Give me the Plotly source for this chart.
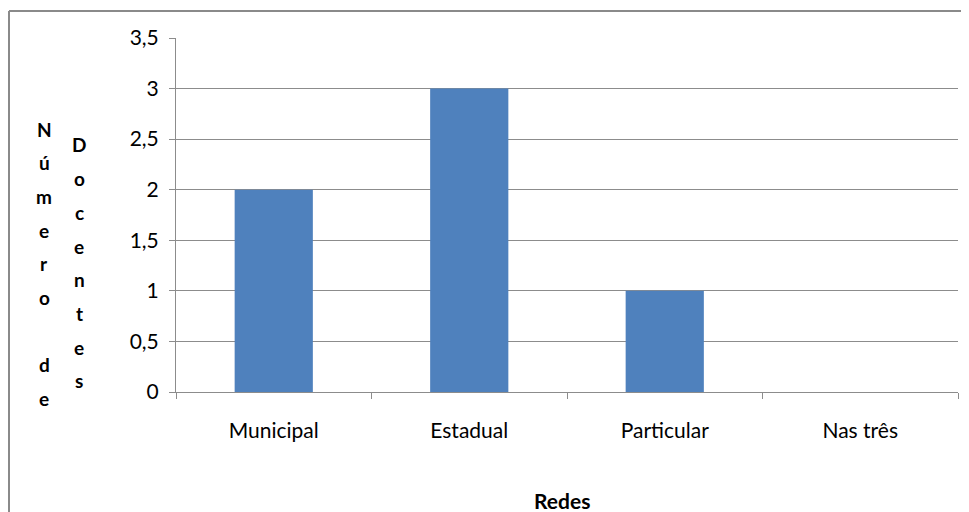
import plotly.graph_objects as go

categories = ["Municipal", "Estadual", "Particular", "Nas três"]
values = [2, 3, 1, 0]
y_title_col1 = "Número de"
y_title_col2 = "Docentes"
x_title = "Redes"

W, H = 969, 512
OFF = 8  # page body margin offset of the rendered figure
L, R, T, B = 176 - OFF, 19, 38 - OFF, 128
pw, ph = W - L - R, H - T - B

def px_x(x):
    return (x - OFF - L) / pw

def px_y(y):
    return 1 - (y - OFF - T) / ph

FONT = "Lato"
GRID = "#8c8c8c"

fig = go.Figure(go.Bar(x=categories, y=values, marker=dict(color="#4F81BD", line=dict(width=0))))

fig.update_layout(
    width=W, height=H,
    margin=dict(l=L, r=R, t=T, b=B, pad=0),
    plot_bgcolor="white", paper_bgcolor="white",
    bargap=0.6, showlegend=False,
    separators=",.",
    font=dict(family=FONT, size=21, color="#000000"),
)
fig.update_yaxes(
    range=[0, 3.5], dtick=0.5, tick0=0,
    showgrid=True, gridcolor=GRID, gridwidth=1,
    showline=True, linecolor=GRID, linewidth=1,
    ticks="outside", ticklen=6, tickcolor=GRID,
    ticklabelstandoff=6,
    zeroline=False,
)
fig.update_xaxes(
    showgrid=False, showline=True, linecolor=GRID, linewidth=1,
    ticks="outside", ticklen=6, tickcolor=GRID, tickson="boundaries",
    ticklabelstandoff=20,
)

# Y-axis title letters, stacked vertically in two columns
step = 33.7
for i, ch in enumerate(y_title_col1):
    if ch.strip():
        fig.add_annotation(text=f"<b>{ch}</b>", xref="paper", yref="paper",
                           x=px_x(44), y=px_y(129 + i * step), showarrow=False,
                           xanchor="center", yanchor="middle", font=dict(size=19))
for i, ch in enumerate(y_title_col2):
    fig.add_annotation(text=f"<b>{ch}</b>", xref="paper", yref="paper",
                       x=px_x(79), y=px_y(145 + i * step), showarrow=False,
                       xanchor="center", yanchor="middle", font=dict(size=19))

fig.add_annotation(text=f"<b>{x_title}</b>", xref="paper", yref="paper",
                   x=px_x(562), y=px_y(500), showarrow=False,
                   xanchor="center", yanchor="middle", font=dict(size=21))

# outer chart border (left and top edges visible)
fig.add_shape(type="line", xref="paper", yref="paper",
              x0=px_x(9), x1=px_x(9), y0=px_y(11), y1=px_y(600),
              line=dict(color="#8a8a8a", width=2))
fig.add_shape(type="line", xref="paper", yref="paper",
              x0=px_x(9), x1=px_x(1100), y0=px_y(11), y1=px_y(11),
              line=dict(color="#8a8a8a", width=2))

fig.write_html("out.html")
